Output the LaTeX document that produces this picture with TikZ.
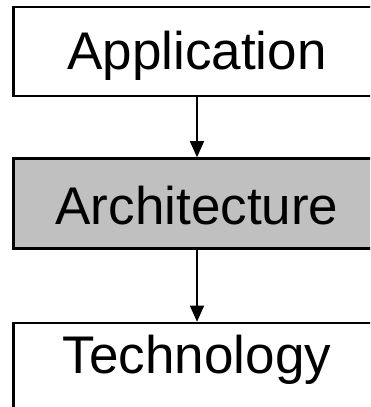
\documentclass[tikz,border=0pt]{standalone}
\usepackage{fontspec}
\setmainfont{Liberation Sans}
\usepackage{tikz}
\usetikzlibrary{arrows.meta}
\usetikzlibrary{positioning}

\definecolor{archgray}{HTML}{C0C0C0}

\begin{document}
\begin{tikzpicture}[x=1pt, y=1pt,
    layer/.style={draw, line width=2.5pt, minimum width=367pt, minimum height=89pt,
        inner ysep=0pt, text height=37pt, text depth=0pt,
        font=\fontsize{53}{60}\selectfont},
    flow/.style={-{Triangle[width=14pt,length=16pt]}, line width=1.2pt}]
    \useasboundingbox (0,0) rectangle (370,407);
    \clip (0,0) rectangle (370,407);
    \node[layer] (app) at (197,355.5) {Application};
    \node[layer, fill=archgray, minimum height=90pt, text height=42pt] (arch) [below=60pt of app] {Architecture};
    \node[layer, inner ysep=14pt, text depth=40pt] (tech) [below=72pt of arch] {Technology};
    \draw[flow] (app) -- (arch);
    \draw[flow] (arch) -- (tech);
\end{tikzpicture}
\end{document}
